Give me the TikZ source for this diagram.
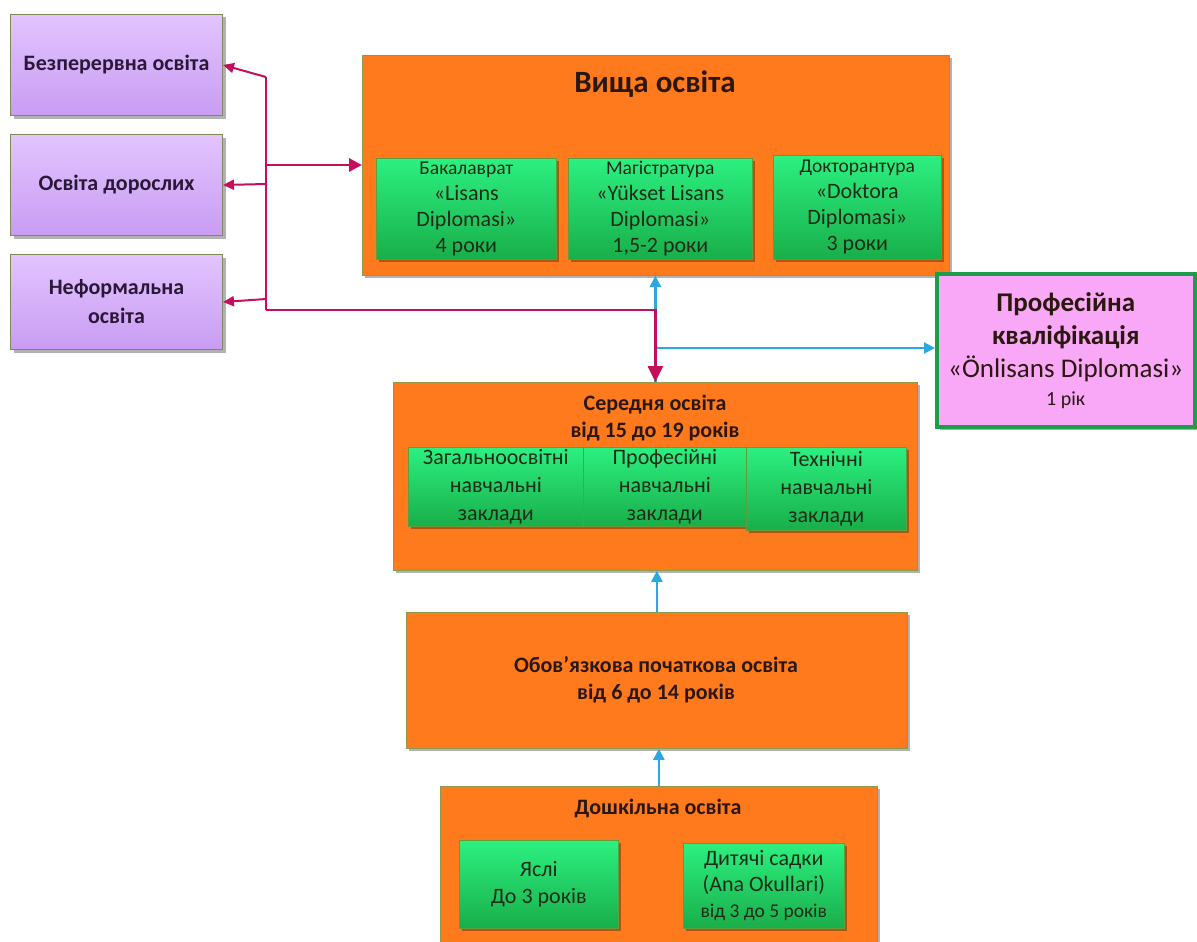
\documentclass[tikz,border=0pt]{standalone}
\usepackage{fontspec}
\setmainfont{Carlito}
\usetikzlibrary{arrows.meta,shadows}
\definecolor{purpleT}{HTML}{E2C4FF}
\definecolor{purpleB}{HTML}{C99CF3}
\definecolor{pborder}{HTML}{7F8A55}
\definecolor{orangeF}{HTML}{FF7A1C}
\definecolor{oborder}{HTML}{8E9A4A}
\definecolor{greenT}{HTML}{2CF080}
\definecolor{greenB}{HTML}{19AE4A}
\definecolor{gborder}{HTML}{5E9E3E}
\definecolor{pinkF}{HTML}{F8A8F6}
\definecolor{pinkB}{HTML}{1F9C4A}
\definecolor{magline}{HTML}{C4105C}
\definecolor{blueline}{HTML}{2AA8E2}
\definecolor{txt}{HTML}{2A1810}
\definecolor{gtxt}{HTML}{1C2C18}
\definecolor{ptxt}{HTML}{2B1838}
\begin{document}
\begin{tikzpicture}[x=1pt,y=-1pt,
  shad/.style={drop shadow={shadow xshift=3pt,shadow yshift=-3pt,fill=black,opacity=0.3}},
  pbox/.style={shad,draw=pborder,line width=1pt,top color=purpleT,bottom color=purpleB,
    text=ptxt,align=center,inner sep=0pt,anchor=north west,
    font=\bfseries\fontsize{22}{29}\selectfont},
  obox/.style={shad,draw=oborder,line width=0.8pt,fill=orangeF,anchor=north west,inner sep=0pt},
  gbox/.style={shad,draw=gborder,line width=0.6pt,top color=greenT,bottom color=greenB,
    text=gtxt,align=center,anchor=north west,inner sep=0pt,
    font=\fontsize{22}{26}\selectfont},
  ttl/.style={text=txt,align=center,font=\bfseries\fontsize{22}{27}\selectfont},
  magmain/.style={draw=magline,line width=2.8pt},
  magarr/.style={draw=magline,line width=2pt,-{Triangle[length=11pt,width=10pt]}},
  bluearr/.style={draw=blueline,line width=2.2pt,-{Triangle[length=11pt,width=11pt]}}
]
\useasboundingbox (0,0) rectangle (1197,942);

% purple boxes
\node[pbox,minimum width=212pt,minimum height=101pt] (bez) at (10,14) {Безперервна освіта};
\node[pbox,minimum width=212pt,minimum height=101pt] (dor) at (10,134) {Освіта дорослих};
\node[pbox,minimum width=212pt,minimum height=95pt] (nef) at (10,254) {Неформальна\\освіта};

% higher education
\node[obox,minimum width=587pt,minimum height=220pt] (vy) at (362,55) {};
\node[text=txt,font=\bfseries\fontsize{31}{34}\selectfont] (vyt) at (655,84) {Вища освіта};
\node[gbox,minimum width=180pt,minimum height=101pt] (bak) at (376,158)
  {\fontsize{19.5}{26}\selectfont Бакалаврат\\«Lisans\\Diplomasi»\\4 роки};
\node[gbox,minimum width=184pt,minimum height=101pt] (mag) at (568,158)
  {\fontsize{19.5}{26}\selectfont Магістратура\\«Yükset Lisans\\Diplomasi»\\1,5-2 роки};
\node[gbox,minimum width=168pt,minimum height=104pt] (dok) at (773,155)
  {\fontsize{19.5}{26}\selectfont Докторантура\\«Doktora\\Diplomasi»\\3 роки};

% professional qualification
\node[shad,draw=pinkB,line width=3.5pt,fill=pinkF,anchor=north west,inner sep=0pt,
  minimum width=258pt,minimum height=153pt,text=txt,align=center,
  font=\fontsize{27}{33}\selectfont] (prof) at (935,272)
  {\bfseries Професійна\\\bfseries кваліфікація\\«Önlisans Diplomasi»\\[-5pt]\fontsize{20}{24}\selectfont 1 рік};

% secondary
\node[obox,minimum width=524pt,minimum height=188pt] (sec) at (393,382) {};
\node[ttl] (sect) at (655,418) {Середня освіта\\від 15 до 19 років};
\node[gbox,minimum width=175pt,minimum height=79pt,font=\fontsize{22}{28}\selectfont] (zag) at (408,447)
  {Загальноосвітні\\навчальні\\заклади};
\node[gbox,minimum width=163pt,minimum height=79pt,font=\fontsize{22}{28}\selectfont] (prf) at (583,447)
  {Професійні\\навчальні\\заклади};
\node[gbox,minimum width=160pt,minimum height=83pt,font=\fontsize{22}{28}\selectfont] (teh) at (746,447)
  {Технічні\\навчальні\\заклади};

% compulsory primary
\node[obox,minimum width=501pt,minimum height=136pt] (obov) at (406,612) {};
\node[ttl] (obovt) at (656,680) {Обов’язкова початкова освіта\\від 6 до 14 років};

% preschool
\node[obox,minimum width=437pt,minimum height=170pt] (dosh) at (440,786) {};
\node[ttl] (dosht) at (658,808) {Дошкільна освіта};
\node[gbox,minimum width=159pt,minimum height=88pt,font=\fontsize{22}{27}\selectfont] (yas) at (459,840)
  {Яслі\\До 3 років};
\node[gbox,minimum width=161pt,minimum height=85pt,font=\fontsize{22}{26}\selectfont] (dyt) at (683,843)
  {Дитячі садки\\(Ana Okullari)\\\fontsize{19.5}{24}\selectfont від 3 до 5 років};

% blue connectors
\coordinate (bh) at (655,348);
\draw[bluearr] (sec.north) -- (sec.north |- vy.south);
\draw[bluearr] (bh) -- (prof.west |- bh);
\draw[bluearr] (obov.north) -- (obov.north |- sec.south);
\draw[bluearr] (dosh.north) -- (dosh.north |- obov.south);

% magenta connectors
\coordinate (jtop) at (266,77);
\coordinate (jmid) at (266,165);
\coordinate (jdor) at (266,184);
\coordinate (jnef) at (266,299);
\coordinate (jbot) at (266,310);
\draw[magmain] (jtop) -- (jbot);
\draw[magmain,-{Triangle[length=13pt,width=13pt]}] (jmid) -- (vy.west |- jmid);
\draw[magmain,-{Triangle[length=16pt,width=15pt]}] (jbot) -| (sec.north);
\draw[magarr] (jtop) -- (bez.east);
\draw[magarr] (jdor) -- (dor.east);
\draw[magarr] (jnef) -- (nef.east);
\end{tikzpicture}
\end{document}
